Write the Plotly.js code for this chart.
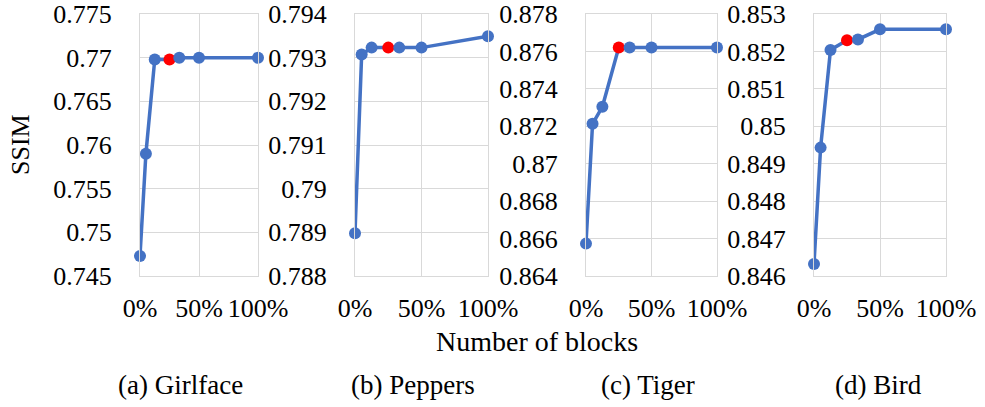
<!DOCTYPE html>
<html>
<head>
<meta charset="utf-8">
<script src="https://cdn.plot.ly/plotly-3.0.1.min.js"></script>
<style>html,body{margin:0;padding:0;background:#fff;}#chart{width:985px;height:407px;}</style>
</head>
<body>
<div id="chart"></div>
<script>
// Data
const blocks = [0, 0.05, 0.125, 0.25, 0.333, 0.5, 1];
const girlface = [0.7473, 0.7590, 0.7698, 0.7698, 0.7700, 0.7700, 0.7700];
const peppers  = [0.78898, 0.79307, 0.79323, 0.79323, 0.79323, 0.79323, 0.79349];
const tiger    = [0.86573, 0.87213, 0.87304, 0.87621, 0.87621, 0.87621, 0.87621];
const bird     = [0.84632, 0.84943, 0.85204, 0.8523, 0.85232, 0.85259, 0.85259];
const highlightBlock = 0.25;
const captions = ['(a) Girlface', '(b) Peppers', '(c) Tiger', '(d) Bird'];
const yRanges = [[0.745, 0.775], [0.788, 0.794], [0.864, 0.878], [0.846, 0.853]];
const yStep = [0.005, 0.001, 0.002, 0.001];
const xTicks = [0, 0.5, 1];
const xTitle = 'Number of blocks';
const yTitle = 'SSIM';

const series = [girlface, peppers, tiger, bird];
const W = 985, H = 407;
const px = [[140, 258], [355, 488], [586, 717], [814, 946]];
const yTop = 14, yBot = 276;
const FONT = 'Liberation Serif';
const BLUE = '#4472C4', RED = '#FF0000', GRID = '#D9D9D9';

const traces = [];
const layout = {
  width: W, height: H,
  margin: {l: 0, r: 0, t: 0, b: 0},
  paper_bgcolor: '#fff', plot_bgcolor: '#fff',
  showlegend: false,
  font: {family: FONT, size: 26, color: '#000'},
  annotations: []
};

series.forEach((ys, i) => {
  const n = i === 0 ? '' : String(i + 1);
  traces.push({
    x: blocks, y: ys,
    xaxis: 'x' + n, yaxis: 'y' + n,
    type: 'scatter', mode: 'lines+markers',
    line: {color: BLUE, width: 3.5},
    marker: {size: 12, color: blocks.map(b => b === highlightBlock ? RED : BLUE)},
    cliponaxis: false,
    hoverinfo: 'x+y'
  });
  layout['xaxis' + n] = {
    domain: [px[i][0] / W, px[i][1] / W],
    anchor: 'y' + n,
    range: [0, 1],
    tickmode: 'array', tickvals: xTicks,
    tickformat: '.0%', tickangle: 0,
    showgrid: true, gridcolor: GRID, gridwidth: 1,
    showline: true, linecolor: GRID, linewidth: 1, mirror: true,
    zeroline: false, ticks: '',
    ticklabelstandoff: 9,
    tickfont: {family: FONT, size: 26, color: '#000'}
  };
  layout['yaxis' + n] = {
    domain: [1 - yBot / H, 1 - yTop / H],
    anchor: 'x' + n,
    range: yRanges[i],
    tickmode: 'linear', tick0: yRanges[i][0], dtick: yStep[i],
    showgrid: true, gridcolor: GRID, gridwidth: 1,
    showline: true, linecolor: GRID, linewidth: 1, mirror: true,
    zeroline: false, ticks: '',
    ticklabelstandoff: 22,
    tickfont: {family: FONT, size: 26, color: '#000'}
  };
  layout.annotations.push({
    text: captions[i], xref: 'paper', yref: 'paper',
    x: [180, 413, 648, 878][i] / W, y: 1 - 385 / H,
    xanchor: 'center', yanchor: 'middle', showarrow: false,
    font: {family: FONT, size: 27, color: '#000'}
  });
});

layout.annotations.push({
  text: xTitle, xref: 'paper', yref: 'paper',
  x: 537 / W, y: 1 - 341 / H, xanchor: 'center', yanchor: 'middle',
  showarrow: false, font: {family: FONT, size: 28, color: '#000'}
});
layout.annotations.push({
  text: yTitle, xref: 'paper', yref: 'paper',
  x: 20 / W, y: 1 - 145 / H, xanchor: 'center', yanchor: 'middle',
  textangle: -90, showarrow: false, font: {family: FONT, size: 26, color: '#000'}
});

Plotly.newPlot('chart', traces, layout, {displayModeBar: false, staticPlot: true});
</script>
</body>
</html>
